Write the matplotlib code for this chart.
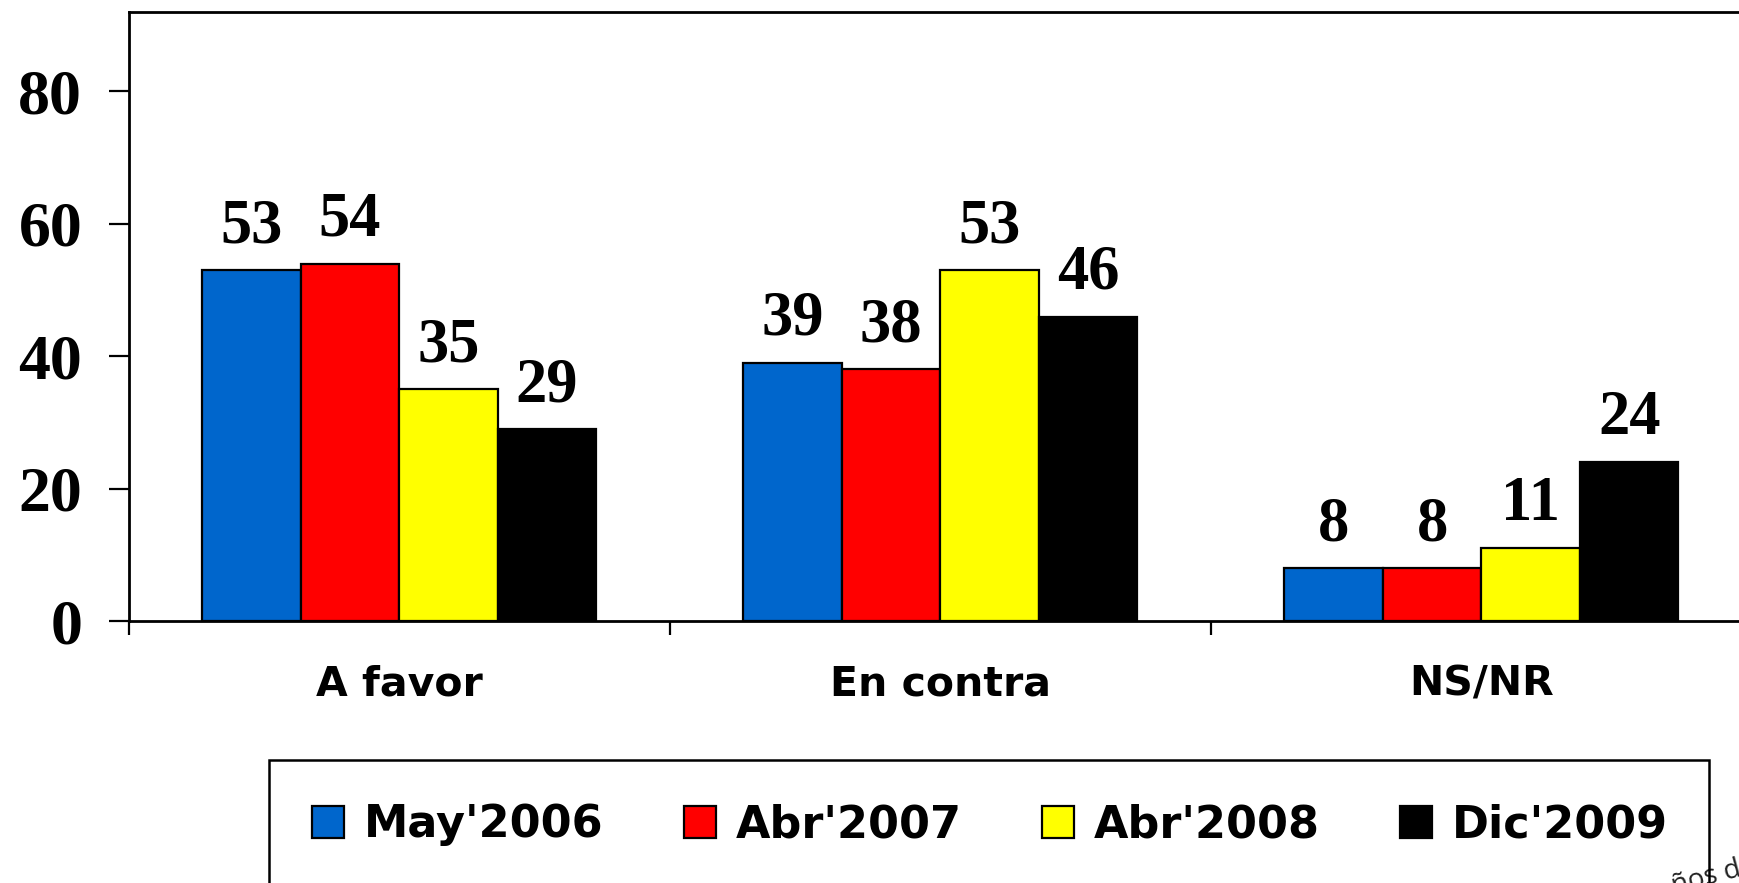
import matplotlib
matplotlib.use("Agg")
import matplotlib.pyplot as plt
from matplotlib.patches import Rectangle
import numpy as np

categories = ["A favor", "En contra", "NS/NR"]
series_names = ["May'2006", "Abr'2007", "Abr'2008", "Dic'2009"]
may2006 = [53, 39, 8]
abr2007 = [54, 38, 8]
abr2008 = [35, 53, 11]
dic2009 = [29, 46, 24]
series_values = [may2006, abr2007, abr2008, dic2009]
colors = ["#0066CC", "#FF0000", "#FFFF00", "#000000"]
yticks = [0, 20, 40, 60, 80]

W, H = 1739, 883
fig = plt.figure(figsize=(W / 100, H / 100), dpi=100)
ax = fig.add_axes([128.6 / W, 1 - 621 / H, (1752 - 128.6) / W, (621 - 12) / H])

x = np.arange(len(categories))
bw = 0.182
serif = ["Liberation Serif", "DejaVu Serif"]
sans = ["DejaVu Sans"]

handles = []
for i, (name, vals, c) in enumerate(zip(series_names, series_values, colors)):
    bars = ax.bar(x + (i - 1.5) * bw, vals, bw, color=c, edgecolor="black",
                  linewidth=1.6, label=name, zorder=3)
    handles.append(bars)
    ax.bar_label(bars, labels=[str(v) for v in vals], padding=10,
                 fontsize=45, fontweight="bold", family=serif)

ax.set_xlim(-0.5, 2.5)
ax.set_ylim(0, 92)

ax.set_yticks(yticks)
ax.set_yticklabels([str(t) for t in yticks], fontsize=46, fontweight="bold", family=serif)
ax.tick_params(axis="y", direction="out", length=14.4, width=1.6, pad=19)

ax.set_xticks([-0.5, 0.5, 1.5, 2.5])
ax.set_xticklabels([])
ax.tick_params(axis="x", which="major", direction="out", length=10, width=1.6)
ax.set_xticks(x, minor=True)
ax.set_xticklabels(categories, minor=True, fontsize=29.5, fontweight="bold", family=sans)
ax.tick_params(axis="x", which="minor", length=0, pad=31)

for s in ["left", "top", "bottom", "right"]:
    ax.spines[s].set_linewidth(2)
    ax.spines[s].set_color("black")

# legend frame
fig.patches.append(Rectangle((269 / W, -0.2), (1709 - 269) / W, 0.2 + (1 - 760 / H),
                             transform=fig.transFigure, fill=False,
                             edgecolor="black", linewidth=1.8, zorder=5))

leg = fig.legend(handles=handles, labels=series_names, ncol=4,
                 loc="center left", bbox_to_anchor=(312 / W, 1 - 825 / H),
                 frameon=False, prop={"family": sans, "weight": "bold", "size": 32},
                 handlelength=0.72, handleheight=0.72, handletextpad=0.45,
                 columnspacing=1.8, borderpad=0, borderaxespad=0)
for h in leg.legend_handles:
    h.set_edgecolor("black")
    h.set_linewidth(1.6)

fig.text(1674 / W, 1 - 894 / H, "ños de", rotation=15, fontsize=20,
         family=["Open Sans", "DejaVu Sans"], color="#222222",
         ha="left", va="baseline", rotation_mode="anchor")

fig.savefig("out.png", dpi=100)
